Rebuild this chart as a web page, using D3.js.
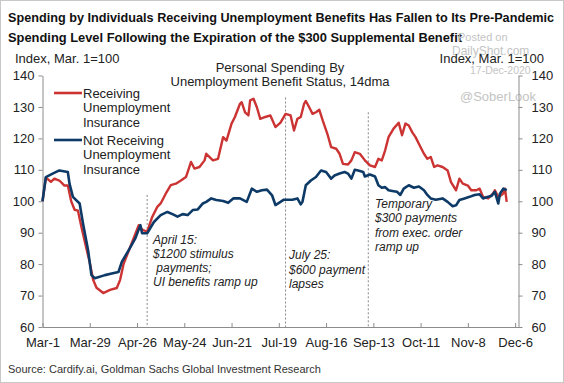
<!DOCTYPE html>
<html>
<head>
<meta charset="utf-8">
<script src="https://cdn.jsdelivr.net/npm/d3@7"></script>
<style>
  html, body { margin: 0; padding: 0; background: #fff; }
  svg { display: block; font-family: "Liberation Sans", Arial, sans-serif; }
</style>
</head>
<body>
<svg id="chart" width="564" height="383"></svg>
<script>
// ---- data ----
const startDate = new Date(2020, 2, 1);
const tickDays = [0, 28, 56, 84, 112, 140, 168, 196, 224, 252, 280];
const tickLabels = ["Mar-1", "Mar-29", "Apr-26", "May-24", "Jun-21", "Jul-19", "Aug-16", "Sep-13", "Oct-11", "Nov-8", "Dec-6"];
const yTicks = [60, 70, 80, 90, 100, 110, 120, 130, 140];

const receivingDays = [0,2,5,7,10,13,15,17,19,21,23,26,28,30,32,36,40,44,46,48,52,57,59,62,65,68,70,73,76,79,82,85,88,90,93,96,97,101,104,107,109,112,114,117,118,120,122,123,125,127,129,132,135,138,141,144,147,149,151,153,155,156,158,160,162,164,166,169,171,174,176,178,181,183,185,188,191,194,197,199,201,203,205,208,211,213,215,217,219,221,224,226,228,230,232,234,237,240,242,245,247,249,252,254,257,259,261,264,267,268,270,272,273,274,275];
const receivingValues = [100.0,107.5,106.2,107.2,106.6,105.0,105.0,100.0,97.3,97.0,92.0,85.0,80.5,75.0,72.5,70.8,71.8,72.4,75.0,80.0,85.5,92.4,91.0,90.3,95.0,98.2,99.3,102.4,105.1,105.6,106.6,107.7,112.5,110.4,110.9,113.0,115.1,113.0,113.5,120.4,119.3,124.7,126.8,131.0,131.5,128.3,127.3,132.1,132.6,129.9,126.2,126.8,127.3,123.6,125.0,127.8,127.3,122.5,126.2,126.8,131.0,131.9,129.9,127.8,128.3,129.1,125.7,121.0,117.2,116.7,115.1,111.9,111.7,113.0,115.6,115.1,113.0,111.4,110.9,113.5,113.0,116.2,120.4,123.1,125.0,121.0,124.7,124.1,122.0,120.4,117.2,115.1,113.5,114.1,110.9,111.4,110.9,109.8,106.1,103.5,107.2,105.6,105.0,103.5,103.5,104.0,101.4,100.9,102.5,103.5,101.4,102.0,102.5,104.0,99.8];

const notReceivingDays = [0,2,6,10,15,16,18,22,24,27,29,31,37,41,45,47,51,55,58,59,62,66,70,74,77,80,83,86,89,92,95,97,100,103,107,110,113,117,121,124,127,130,133,136,138,141,143,148,151,153,154,156,159,162,165,168,171,173,176,179,181,183,185,187,190,191,194,197,199,201,203,205,208,210,212,214,217,220,223,226,228,230,233,237,240,243,245,247,250,253,256,259,261,264,266,268,270,271,273,275];
const notReceivingValues = [100.0,107.7,108.8,109.8,109.3,105.6,101.4,99.3,92.9,84.4,76.5,75.5,76.5,77.0,77.5,80.7,84.4,88.2,92.4,89.8,89.8,93.4,95.6,96.6,95.9,95.1,95.9,95.6,97.2,97.4,99.3,99.8,100.9,100.4,100.1,99.5,100.9,100.9,99.8,104.0,103.0,103.5,103.7,101.9,98.8,99.8,100.5,100.5,100.9,99.0,99.8,105.1,106.6,107.7,109.8,109.3,107.2,108.2,108.8,109.3,108.8,107.2,110.0,109.8,109.3,107.9,108.5,107.9,105.1,104.3,104.5,103.5,103.2,103.0,102.0,104.0,105.1,104.3,104.7,103.5,102.0,100.9,100.5,100.9,99.8,98.4,98.7,100.4,100.9,101.4,102.0,102.2,100.9,101.4,101.7,103.0,99.3,102.4,104.0,103.5];

const seriesNames = ["Receiving", "Unemployment", "Insurance"];
const seriesNames2 = ["Not Receiving", "Unemployment", "Insurance"];
const eventDays = [62, 144, 193];
const eventTops = [102, 133, 128.3];
const eventNotes = [
  ["April 15:", "$1200 stimulus", " payments;", "UI benefits ramp up"],
  ["July 25:", "$600 payment", "lapses"],
  ["Temporary", "$300 payments", "from exec. order", "ramp up"]
];
const noteTopValues = [86.5, 81.5, 97.8];

// ---- layout ----
const svg = d3.select("#chart");
const W = 564, H = 383;
const red = "#cc3333", blue = "#0d3a66", axisCol = "#8c8c8c", txt = "#222";

svg.append("rect").attr("x", 0.5).attr("y", 0.5).attr("width", W - 1).attr("height", H - 1)
  .attr("fill", "#fff").attr("stroke", "#c8c8c8");

const pLeft = 42.5, pRight = 518.5, pTop = 75.5, pBottom = 327;
const x = d3.scaleTime().domain([startDate, d3.timeDay.offset(startDate, 282)]).range([pLeft, pRight]);
const y = d3.scaleLinear().domain([60, 140]).range([pBottom, pTop]);
const dt = d => d3.timeDay.offset(startDate, d);

// titles
const title = svg.append("g").attr("font-weight", "bold").attr("font-size", 13).attr("fill", "#111");
title.append("text").attr("x", 8).attr("y", 22).attr("textLength", 546).attr("lengthAdjust", "spacingAndGlyphs")
  .text("Spending by Individuals Receiving Unemployment Benefits Has Fallen to Its Pre-Pandemic");
title.append("text").attr("x", 8).attr("y", 42).attr("textLength", 454).attr("lengthAdjust", "spacingAndGlyphs")
  .text("Spending Level Following the Expiration of the $300 Supplemental Benefit");

// watermark
const wm = svg.append("g").attr("fill", "#c4c4c4").attr("font-size", 11);
wm.append("text").attr("x", 458).attr("y", 41).text("Posted on");
wm.append("text").attr("x", 452).attr("y", 55).attr("font-size", 12).text("DailyShot.com");
wm.append("text").attr("x", 470).attr("y", 74).attr("font-size", 10.5).text("17-Dec-2020");
wm.append("text").attr("x", 460).attr("y", 101).attr("font-size", 13).text("@SoberLook");

// axis labels
svg.append("text").attr("x", 15).attr("y", 63).attr("font-size", 13).attr("fill", txt).text("Index, Mar. 1=100");
svg.append("text").attr("x", 544).attr("y", 63).attr("text-anchor", "end").attr("font-size", 13).attr("fill", txt).text("Index, Mar. 1=100");

// center title
svg.append("text").attr("x", 280).attr("y", 72).attr("text-anchor", "middle").attr("font-size", 13).attr("fill", txt).text("Personal Spending By");
svg.append("text").attr("x", 280).attr("y", 86).attr("text-anchor", "middle").attr("font-size", 13).attr("fill", txt).text("Unemployment Benefit Status, 14dma");

// axes
function styleAxis(g) {
  g.select(".domain").attr("stroke", axisCol);
  g.selectAll(".tick line").attr("stroke", axisCol);
  g.selectAll(".tick text").attr("fill", txt).attr("font-size", 13).attr("font-family", "Liberation Sans, Arial, sans-serif");
}
svg.append("g").attr("transform", `translate(${pLeft},0)`)
  .call(d3.axisLeft(y).tickValues(yTicks).tickSize(4).tickPadding(4).tickSizeOuter(0))
  .call(styleAxis);
svg.append("g").attr("transform", `translate(${pRight},0)`)
  .call(d3.axisRight(y).tickValues(yTicks).tickSize(4).tickPadding(9).tickSizeOuter(0))
  .call(styleAxis);
svg.append("g").attr("transform", `translate(0,${pBottom})`)
  .call(d3.axisBottom(x).tickValues(tickDays.map(dt)).tickFormat((d, i) => tickLabels[i]).tickSize(-4).tickPadding(11).tickSizeOuter(0))
  .call(styleAxis);

// event lines
eventDays.forEach((d, i) => {
  svg.append("line").attr("x1", x(dt(d))).attr("x2", x(dt(d))).attr("y1", y(eventTops[i])).attr("y2", pBottom)
    .attr("stroke", "#888").attr("stroke-width", 1).attr("stroke-dasharray", "2,2");
});

// notes
const noteX = [153, 289, 375];
eventNotes.forEach((lines, i) => {
  const t = svg.append("text").attr("font-style", "italic").attr("font-size", 12).attr("fill", txt)
    .attr("x", noteX[i]).attr("y", y(noteTopValues[i]));
  lines.forEach((l, j) => {
    t.append("tspan").attr("x", noteX[i]).attr("dy", j === 0 ? 0 : 14.2).attr("xml:space", "preserve").text(l);
  });
});

// lines
const line = d3.line().x(d => x(dt(d[0]))).y(d => y(d[1])).curve(d3.curveLinear);
svg.append("path").datum(receivingDays.map((d, i) => [d, receivingValues[i]]))
  .attr("d", line).attr("fill", "none").attr("stroke", red).attr("stroke-width", 2.4).attr("stroke-linejoin", "round");
svg.append("path").datum(notReceivingDays.map((d, i) => [d, notReceivingValues[i]]))
  .attr("d", line).attr("fill", "none").attr("stroke", blue).attr("stroke-width", 2.6).attr("stroke-linejoin", "round");

// legend
const lg = svg.append("g").attr("font-size", 13).attr("fill", txt);
[[seriesNames, red, 93], [seriesNames2, blue, 140]].forEach(([names, col, ly]) => {
  lg.append("line").attr("x1", 54).attr("x2", 82).attr("y1", ly).attr("y2", ly).attr("stroke", col).attr("stroke-width", 2.6);
  names.forEach((n, j) => {
    lg.append("text").attr("x", 83).attr("y", ly + 4.5 + j * 14.8).text(n);
  });
});

// source
svg.append("text").attr("x", 8).attr("y", 373).attr("font-size", 11).attr("fill", "#333")
  .text("Source: Cardify.ai, Goldman Sachs Global Investment Research");
</script>
</body>
</html>
